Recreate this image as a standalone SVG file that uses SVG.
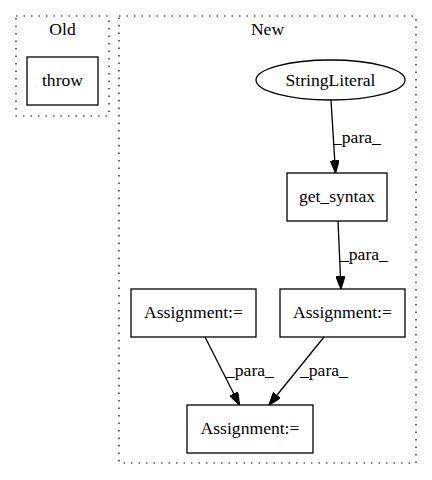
<svg xmlns="http://www.w3.org/2000/svg" width="432" height="480" viewBox="0 0 432 480">
<style>
text{font-family:"Liberation Serif","Times New Roman",serif;font-size:17.6px;fill:#000}
.c{fill:none;stroke:#000;stroke-width:1.2;stroke-dasharray:1.5,6}
.n{fill:none;stroke:#000;stroke-width:1.3}
.e{fill:none;stroke:#000;stroke-width:1.3}
</style>
<defs>
<marker id="a" viewBox="0 0 10 7" refX="10" refY="3.5" markerWidth="12.7" markerHeight="9" markerUnits="userSpaceOnUse" orient="auto">
<polygon points="0,0 10,3.5 0,7" fill="#000" stroke="#000"/>
</marker>
</defs>
<rect width="432" height="480" fill="#fff"/>
<g id="cluster_old">
<rect class="c" x="16" y="16" width="93" height="100"/>
<text x="62.5" y="35" text-anchor="middle">Old</text>
</g>
<g id="cluster_new">
<rect class="c" x="119" y="16" width="297" height="447"/>
<text x="267.5" y="35" text-anchor="middle">New</text>
</g>
<g id="throw">
<rect class="n" x="27" y="57" width="71" height="48"/>
<text x="62.5" y="86" text-anchor="middle">throw</text>
</g>
<g id="stringliteral">
<ellipse class="n" cx="330.5" cy="80" rx="74.5" ry="20"/>
<text x="330.5" y="85.5" text-anchor="middle">StringLiteral</text>
</g>
<g id="get_syntax">
<rect class="n" x="287" y="173" width="100" height="48"/>
<text x="337" y="202" text-anchor="middle">get_syntax</text>
</g>
<g id="assign_left">
<rect class="n" x="131" y="289" width="125" height="48"/>
<text x="193.5" y="318" text-anchor="middle">Assignment:=</text>
</g>
<g id="assign_right">
<rect class="n" x="280" y="289" width="125" height="48"/>
<text x="342.5" y="318" text-anchor="middle">Assignment:=</text>
</g>
<g id="assign_bottom">
<rect class="n" x="187" y="405" width="126" height="48"/>
<text x="250" y="434" text-anchor="middle">Assignment:=</text>
</g>
<g id="edges">
<path class="e" d="M331,100 L335.5,173" marker-end="url(#a)"/>
<text x="333" y="143">_para_</text>
<path class="e" d="M338,221 L341,289" marker-end="url(#a)"/>
<text x="340" y="260">_para_</text>
<path class="e" d="M205,337 L239.5,405" marker-end="url(#a)"/>
<text x="226" y="376">_para_</text>
<path class="e" d="M324,337 L269,405" marker-end="url(#a)"/>
<text x="300" y="376">_para_</text>
</g>
</svg>
